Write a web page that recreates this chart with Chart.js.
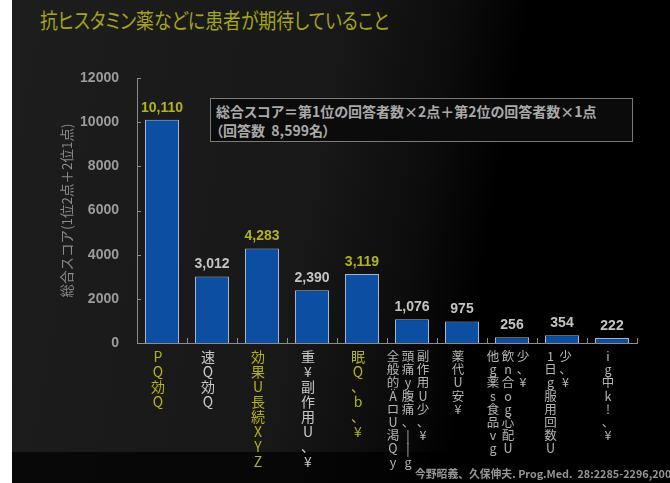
<!DOCTYPE html>
<html>
<head>
  <meta charset="utf-8" />
  <title>抗ヒスタミン薬などに患者が期待していること</title>
  <script src="https://cdn.jsdelivr.net/npm/chart.js"></script>
  <style>
    html, body { margin: 0; padding: 0; overflow: hidden; background: #fff; }
    #slide {
      position: absolute; left: 12px; top: 0; width: 658px; height: 483px;
      background: linear-gradient(100deg, #1d1d1d 0%, #181818 45%, #0c0c0c 60%, #000 70%);
    }
    #slide::after {
      content: ''; position: absolute; left: 0; right: 0; top: 452px; bottom: 0; background: rgba(0,0,0,0.7);
    }
    #wrap { position: absolute; left: 0; top: 0; width: 670px; height: 483px; }
    #title {
      position: absolute; left: 40px; top: 4px; margin: 0;
      font: 21px "Noto Sans CJK JP", sans-serif; color: #a4a41e;
      font-feature-settings: "palt"; white-space: nowrap;
      transform: scaleX(0.85); transform-origin: 0 0;
    }
    #note {
      position: absolute; left: 210px; top: 98px; width: 423px; height: 44px;
      border: 1px solid #7a7a7a; background: #0b0b0b; box-sizing: border-box;
      font: bold 14px "Noto Sans CJK JP", sans-serif; color: #a9a9a9;
      padding: 3px 0 0 5px; line-height: 19px; white-space: nowrap; font-feature-settings: "palt";
    }
    #source {
      position: absolute; left: 415px; top: 465px; white-space: nowrap;
      font: bold 10.8px "Noto Sans CJK JP", sans-serif; color: #969696;
    }
  </style>
</head>
<body>
  <div id="slide"></div>
  <h1 id="title">抗ヒスタミン薬などに患者が期待していること</h1>
  <div id="wrap"><canvas id="chart"></canvas></div>
  <div id="note">総合スコア＝第1位の回答者数×2点＋第2位の回答者数×1点<br>（回答数&nbsp;&nbsp;8,599名）</div>
  <div id="source">今野昭義、久保伸夫. Prog.Med.&nbsp;&nbsp;28:2285-2296,2008</div>

  <script>
  // each category label is written vertically, one string per column
  const categoryColumns = [
    ['PQ効Q'],
    ['速Q効Q'],
    ['効果U長続XYZ'],
    ['重¥副作用U、¥'],
    ['眠Q、b、¥'],
    ['全般的ÄロU渇Qy', '頭痛y腹痛、||g', '副作用U少、¥'],
    ['薬代U安¥'],
    ['他g薬s食品vg', '飲n合og心配U', '少、¥'],
    ['1日g服用回数U', '少、¥'],
    ['ig中k!、¥']
  ];
  const scores = [10110, 3012, 4283, 2390, 3119, 1076, 975, 256, 354, 222];
  const highlighted = [true, false, true, false, true, false, false, false, false, false];
  const yTicks = [0, 2000, 4000, 6000, 8000, 10000, 12000];
  const yTitle = '総合スコア(1位2点＋2位1点)';

  const YELLOW = '#b3b31d';

  const decorations = {
    id: 'decorations',
    afterDraw(chart) {
      const ctx = chart.ctx;
      const x = chart.scales.x, y = chart.scales.y;
      const area = chart.chartArea;
      ctx.save();

      // inward tick marks
      ctx.strokeStyle = '#8c8c8c';
      ctx.lineWidth = 1;
      ctx.beginPath();
      yTicks.forEach(v => {
        const py = Math.round(y.getPixelForValue(v)) + 0.5;
        ctx.moveTo(area.left, py);
        ctx.lineTo(area.left + 4, py);
      });
      for (let i = 0; i <= scores.length; i++) {
        const px = Math.round(x.getPixelForValue(i - 0.5)) + 0.5;
        ctx.moveTo(px, area.bottom);
        ctx.lineTo(px, area.bottom - 5);
      }
      ctx.stroke();

      // value labels
      const meta = chart.getDatasetMeta(0);
      ctx.font = 'bold 14px "Liberation Sans", Arial, sans-serif';
      ctx.textAlign = 'center';
      ctx.textBaseline = 'bottom';
      meta.data.forEach((bar, i) => {
        ctx.fillStyle = highlighted[i] ? YELLOW : '#c4c4c4';
        ctx.fillText(scores[i].toLocaleString('en-US'), bar.x, bar.y - 5);
      });

      // vertical category labels
      ctx.textBaseline = 'top';
      categoryColumns.forEach((cols, i) => {
        const small = i >= 5;
        const lh = small ? 13.2 : 15;
        ctx.font = (small ? '12.5px' : '14px') + ' "Noto Sans CJK JP", sans-serif';
        ctx.fillStyle = highlighted[i] ? YELLOW : (small ? '#b4b4b4' : '#c8c8c8');
        const cx = x.getPixelForValue(i) - 4;
        cols.forEach((col, c) => {
          const colX = cx + (c - (cols.length - 1) / 2) * 15;
          Array.from(col).forEach((ch, k) => {
            ctx.fillText(ch, colX, area.bottom + 7 + k * lh);
          });
        });
      });
      ctx.restore();
    }
  };

  new Chart(document.getElementById('chart').getContext('2d'), {
    type: 'bar',
    data: {
      labels: categoryColumns.map(cols => cols.join(' ')),
      datasets: [{
        data: scores,
        backgroundColor: '#0b4ea2',
        borderColor: '#a9b4c6',
        borderWidth: 1,
        barPercentage: 0.68,
        categoryPercentage: 1.0
      }]
    },
    options: {
      responsive: true,
      maintainAspectRatio: false,
      animation: false,
      layout: { padding: { top: 78, right: 33, left: 0, bottom: 0 } },
      plugins: { legend: { display: false }, tooltip: { enabled: false } },
      scales: {
        x: {
          offset: true,
          grid: { display: false },
          border: { color: '#8c8c8c', width: 1 },
          ticks: { display: false },
          afterFit: s => { s.height = 140; }
        },
        y: {
          min: 0,
          max: 12000,
          grid: { display: false },
          border: { color: '#8c8c8c', width: 1 },
          afterBuildTicks: s => { s.ticks = yTicks.map(v => ({ value: v })); },
          ticks: {
            padding: 10,
            color: '#9c9c9c',
            font: { family: '"Liberation Sans", Arial, sans-serif', size: 14, weight: 'bold' },
            callback: v => String(v)
          },
          title: {
            display: true,
            text: yTitle,
            color: '#8a8a8a',
            font: { family: '"Noto Sans CJK JP", sans-serif', size: 13.5 },
            padding: { top: 59, bottom: 0 }
          },
          afterFit: s => { s.width = 137; }
        }
      }
    },
    plugins: [decorations]
  });
  </script>
</body>
</html>
